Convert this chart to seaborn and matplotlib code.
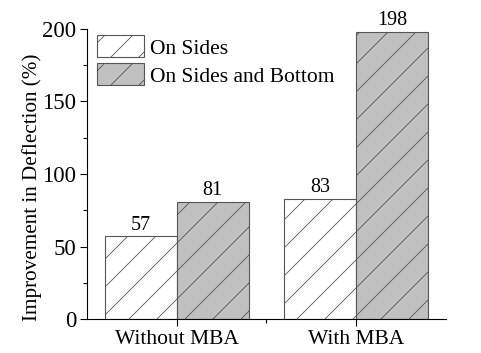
import pandas as pd
import matplotlib.pyplot as plt
import seaborn as sns
from matplotlib.ticker import MultipleLocator, FixedLocator

# Data
groups = ['Without MBA', 'With MBA']
series = ['On Sides', 'On Sides and Bottom']
on_sides = [57, 83]
on_sides_bottom = [81, 198]

df = pd.DataFrame({
    'group': groups * 2,
    'series': [series[0]] * 2 + [series[1]] * 2,
    'value': on_sides + on_sides_bottom,
})

DPI = 84
K = 100 / DPI  # keep sizes as if drawn at 100 dpi


def pt(x):
    return x * K


sns.set_style('ticks')
plt.rcParams['font.family'] = ['Liberation Serif', 'DejaVu Serif']
plt.rcParams['hatch.color'] = '#555555'
plt.rcParams['hatch.linewidth'] = pt(0.6)
plt.rcParams['text.color'] = 'black'
plt.rcParams['axes.labelcolor'] = 'black'
plt.rcParams['xtick.color'] = 'black'
plt.rcParams['ytick.color'] = 'black'
plt.rcParams['axes.edgecolor'] = 'black'

fig = plt.figure(figsize=(481 / DPI, 353 / DPI), dpi=DPI)
ax = fig.add_axes([0.181, 0.096, 0.746, 0.822])

colors = {'On Sides': '#ffffff', 'On Sides and Bottom': '#c0c0c0'}
sns.barplot(data=df, x='group', y='value', hue='series', order=groups,
            hue_order=series, palette=colors, width=0.8, ax=ax,
            edgecolor='#555555', linewidth=pt(0.8), saturation=1)

for cont in ax.containers:
    for p in cont:
        p.set_hatch('/')
    ax.bar_label(cont, fontsize=pt(14.5), padding=pt(1))

ax.set_xlim(-0.5, 1.5)
ax.set_ylim(0, 200)
ax.yaxis.set_major_locator(MultipleLocator(50))
ax.yaxis.set_minor_locator(MultipleLocator(25))
ax.xaxis.set_minor_locator(FixedLocator([0.5]))
ax.tick_params(axis='y', which='major', labelsize=pt(16.5))
ax.tick_params(axis='x', which='major', labelsize=pt(15.5))
ax.tick_params(axis='both', which='major', length=pt(5), width=pt(0.8), direction='out')
ax.tick_params(axis='both', which='minor', length=pt(3), width=pt(0.8), direction='out')
ax.set_xlabel('')
ax.set_ylabel('Improvement in Deflection (%)', fontsize=pt(15.2))
ax.yaxis.set_label_coords(-0.125, 0.455)
for s in ['top', 'right']:
    ax.spines[s].set_visible(False)
for s in ['left', 'bottom']:
    ax.spines[s].set_linewidth(pt(0.8))

handles, labels = ax.get_legend_handles_labels()
for h in handles:
    h.set_hatch('/')
ax.legend(handles, labels, loc='upper left', frameon=False, fontsize=pt(15.5),
          bbox_to_anchor=(0.028, 0.978), handlelength=2.2, handleheight=1.2,
          handletextpad=0.28, labelspacing=0.22, borderaxespad=0, borderpad=0)

fig.savefig('out.png', dpi=DPI)
